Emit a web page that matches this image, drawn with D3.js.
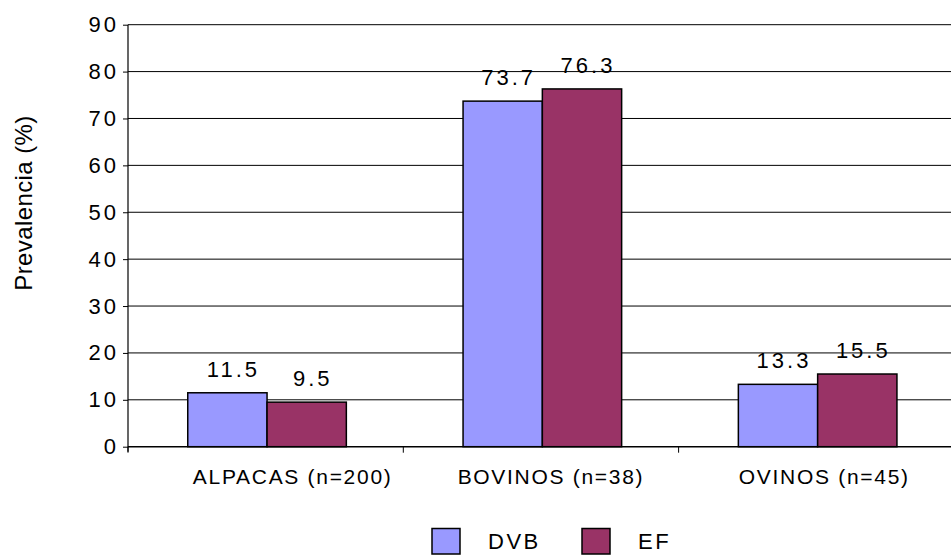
<!DOCTYPE html>
<html>
<head>
<meta charset="utf-8">
<script src="https://cdn.jsdelivr.net/npm/d3@7"></script>
<style>
  html, body { margin: 0; padding: 0; background: #fff; }
  svg { display: block; font-family: "Liberation Sans", Arial, sans-serif; }
</style>
</head>
<body>
<svg id="chart" width="951" height="555"></svg>
<script>
// Prevalence by species
const categories = ["ALPACAS (n=200)", "BOVINOS (n=38)", "OVINOS (n=45)"];
const seriesNames = ["DVB", "EF"];
const dvbValues = [11.5, 73.7, 13.3];
const efValues = [9.5, 76.3, 15.5];
const yTicks = [0, 10, 20, 30, 40, 50, 60, 70, 80, 90];
const seriesColors = ["#9999FF", "#993366"];

const seriesValues = [dvbValues, efValues];
const rows = categories.map((c, i) => ({
  category: c,
  values: seriesNames.map((s, j) => ({ series: s, value: seriesValues[j][i] }))
}));

const svg = d3.select("#chart");
const plotLeft = 128, plotTop = 24.7, plotBottom = 446.7, catStep = 275.3;

const x0 = d3.scaleBand()
  .domain(categories)
  .range([plotLeft, plotLeft + catStep * categories.length])
  .paddingInner(0).paddingOuter(0);

const x1 = d3.scaleBand()
  .domain(seriesNames)
  .range([0, x0.bandwidth()])
  .paddingInner(0).paddingOuter(0.736).align(0.512);

const y = d3.scaleLinear().domain([0, 90]).range([plotBottom, plotTop]);
const color = d3.scaleOrdinal().domain(seriesNames).range(seriesColors);

// horizontal gridlines
svg.append("g")
  .selectAll("line")
  .data(yTicks.filter(t => t > 0))
  .join("line")
  .attr("x1", plotLeft).attr("x2", 951)
  .attr("y1", d => y(d)).attr("y2", d => y(d))
  .attr("stroke", "#000").attr("stroke-width", 1);

// bars
const groups = svg.append("g")
  .selectAll("g")
  .data(rows)
  .join("g")
  .attr("transform", d => `translate(${x0(d.category)},0)`);

groups.selectAll("rect")
  .data(d => d.values)
  .join("rect")
  .attr("x", d => x1(d.series))
  .attr("y", d => y(d.value))
  .attr("width", x1.bandwidth())
  .attr("height", d => y(0) - y(d.value))
  .attr("fill", d => color(d.series))
  .attr("stroke", "#000")
  .attr("stroke-width", 1.5);

// value labels
groups.selectAll("text")
  .data(d => d.values)
  .join("text")
  .attr("x", d => x1(d.series) + x1.bandwidth() / 2 + 6)
  .attr("y", d => y(d.value) - 16)
  .attr("text-anchor", "middle")
  .attr("font-size", 22)
  .attr("letter-spacing", 3)
  .attr("fill", "#000")
  .text(d => d.value.toFixed(1));

// y axis
const yAxis = d3.axisLeft(y).tickValues(yTicks).tickSize(5).tickPadding(4).tickFormat(d3.format("d"));
const gy = svg.append("g").attr("transform", `translate(${plotLeft},0)`).call(yAxis);
gy.select(".domain").attr("stroke", "#000").attr("stroke-width", 1.2).attr("d", `M0,${plotTop}V${plotBottom + 5}`);
gy.selectAll(".tick line").attr("stroke", "#000");
gy.selectAll(".tick text")
  .attr("font-size", 22)
  .attr("letter-spacing", 3)
  .attr("font-family", "'Liberation Sans', Arial, sans-serif")
  .attr("fill", "#000");

// x axis
const gx = svg.append("g").attr("transform", `translate(0,${plotBottom})`);
gx.append("line")
  .attr("x1", plotLeft).attr("x2", 951)
  .attr("y1", 0).attr("y2", 0)
  .attr("stroke", "#000").attr("stroke-width", 1.5);
gx.selectAll("line.tick")
  .data(categories.concat(["end"]))
  .join("line")
  .attr("class", "tick")
  .attr("x1", (d, i) => plotLeft + i * x0.step())
  .attr("x2", (d, i) => plotLeft + i * x0.step())
  .attr("y1", 0).attr("y2", 6)
  .attr("stroke", "#000");
const labelShift = [27, 10, 8];
gx.selectAll("text")
  .data(categories)
  .join("text")
  .attr("x", (d, i) => x0(d) + x0.bandwidth() / 2 + labelShift[i])
  .attr("y", 37)
  .attr("text-anchor", "middle")
  .attr("font-size", 21)
  .attr("letter-spacing", 1.7)
  .attr("fill", "#000")
  .text(d => d);

// y axis title
svg.append("text")
  .attr("transform", "translate(32,203) rotate(-90)")
  .attr("text-anchor", "middle")
  .attr("font-size", 24)
  .attr("letter-spacing", 0.4)
  .attr("fill", "#000")
  .text("Prevalencia (%)");

// legend
const legendX = [432, 582];
const legend = svg.append("g")
  .selectAll("g")
  .data(seriesNames)
  .join("g")
  .attr("transform", (d, i) => `translate(${legendX[i]},528.5)`);
legend.append("rect")
  .attr("width", 28).attr("height", 25.5)
  .attr("fill", d => color(d))
  .attr("stroke", "#000").attr("stroke-width", 1.5);
legend.append("text")
  .attr("x", 56).attr("y", 20.5)
  .attr("font-size", 22)
  .attr("letter-spacing", 2.5)
  .attr("fill", "#000")
  .text(d => d);
</script>
</body>
</html>
